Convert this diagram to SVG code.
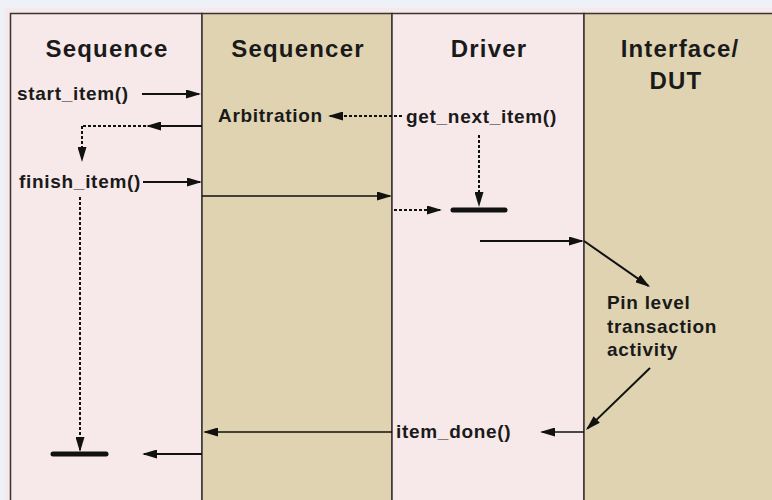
<svg xmlns="http://www.w3.org/2000/svg" width="772" height="500" viewBox="0 0 772 500">
<defs>
<marker id="ah" viewBox="0 0 15 9" markerWidth="15" markerHeight="9" refX="13" refY="4.5" orient="auto" markerUnits="userSpaceOnUse">
<path d="M0,0 L15,4.5 L0,9 z" fill="#111"/>
</marker>
<style>
.hdr{font-family:"Liberation Sans",Arial,sans-serif;font-weight:bold;font-size:24px;letter-spacing:1.2px;fill:#1a1a1a;text-anchor:middle}
.lbl{font-family:"Liberation Sans",Arial,sans-serif;font-weight:bold;font-size:19px;letter-spacing:0.7px;fill:#1a1a1a}
.ln{stroke:#111;stroke-width:2;fill:none}
.thin{stroke:#111;stroke-width:1.4;fill:none}
.dash{stroke:#111;stroke-width:2;fill:none;stroke-dasharray:3,2}
.bar{stroke:#111;stroke-width:5;stroke-linecap:round}
.col{stroke:#3a3232;stroke-width:2}
</style>
</defs>
<rect x="0" y="0" width="772" height="500" fill="#eef1f7"/>
<rect x="5" y="8" width="767" height="492" fill="#f6e9e9"/>
<g id="lane-sequence">
<rect x="10.5" y="13.5" width="191.5" height="490" fill="#f7e9e9" stroke="#3a3232" stroke-width="1.5"/>
<text class="hdr" x="107" y="57">Sequence</text>
</g>
<g id="lane-sequencer">
<rect x="202" y="13.5" width="190" height="490" fill="#dfd3b1" stroke="#3a3232" stroke-width="1.5"/>
<text class="hdr" x="298" y="57">Sequencer</text>
</g>
<g id="lane-driver">
<rect x="392" y="13.5" width="192" height="490" fill="#f7e9e9" stroke="#3a3232" stroke-width="1.5"/>
<text class="hdr" x="489" y="57">Driver</text>
</g>
<g id="lane-interface">
<rect x="584" y="13.5" width="200" height="490" fill="#dfd3b1" stroke="#3a3232" stroke-width="1.5"/>
<text class="hdr" x="680" y="57">Interface/</text>
<text class="hdr" x="676" y="89">DUT</text>
</g>
<g id="labels">
<text class="lbl" x="17" y="100">start_item()</text>
<text class="lbl" x="218" y="122">Arbitration</text>
<text class="lbl" x="406" y="123">get_next_item()</text>
<text class="lbl" x="19" y="188">finish_item()</text>
<text class="lbl" x="396" y="438">item_done()</text>
<text class="lbl" x="607" y="309">Pin level</text>
<text class="lbl" x="607" y="333">transaction</text>
<text class="lbl" x="607" y="356">activity</text>
</g>
<g id="connectors">
<line class="ln" x1="142" y1="94" x2="199" y2="94" marker-end="url(#ah)"/>
<line class="dash" x1="402" y1="116" x2="330" y2="116" marker-end="url(#ah)"/>
<line class="ln" x1="202" y1="126" x2="148" y2="126" marker-end="url(#ah)"/>
<line class="dash" x1="146" y1="126" x2="82" y2="126"/>
<line class="dash" x1="82" y1="126" x2="82" y2="160" marker-end="url(#ah)"/>
<line class="ln" x1="143" y1="182" x2="200" y2="182" marker-end="url(#ah)"/>
<line class="thin" x1="202" y1="196" x2="390" y2="196" marker-end="url(#ah)"/>
<line class="dash" x1="394" y1="210" x2="440" y2="210" marker-end="url(#ah)"/>
<line class="dash" x1="479" y1="135" x2="479" y2="205" marker-end="url(#ah)"/>
<line class="ln" x1="480" y1="241" x2="582" y2="241" marker-end="url(#ah)"/>
<line class="ln" x1="584" y1="241" x2="648.4" y2="285.9" marker-end="url(#ah)"/>
<line class="ln" x1="650" y1="368" x2="587.4" y2="428.6" marker-end="url(#ah)"/>
<line class="thin" x1="584" y1="432" x2="542" y2="432" marker-end="url(#ah)"/>
<line class="thin" x1="392" y1="432" x2="205" y2="432" marker-end="url(#ah)"/>
<line class="ln" x1="202" y1="454" x2="144" y2="454" marker-end="url(#ah)"/>
<line class="dash" x1="80" y1="197" x2="80" y2="450" marker-end="url(#ah)"/>
<line class="bar" x1="453" y1="210" x2="505" y2="210"/>
<line class="bar" x1="53" y1="454" x2="106" y2="454"/>
</g>
</svg>
